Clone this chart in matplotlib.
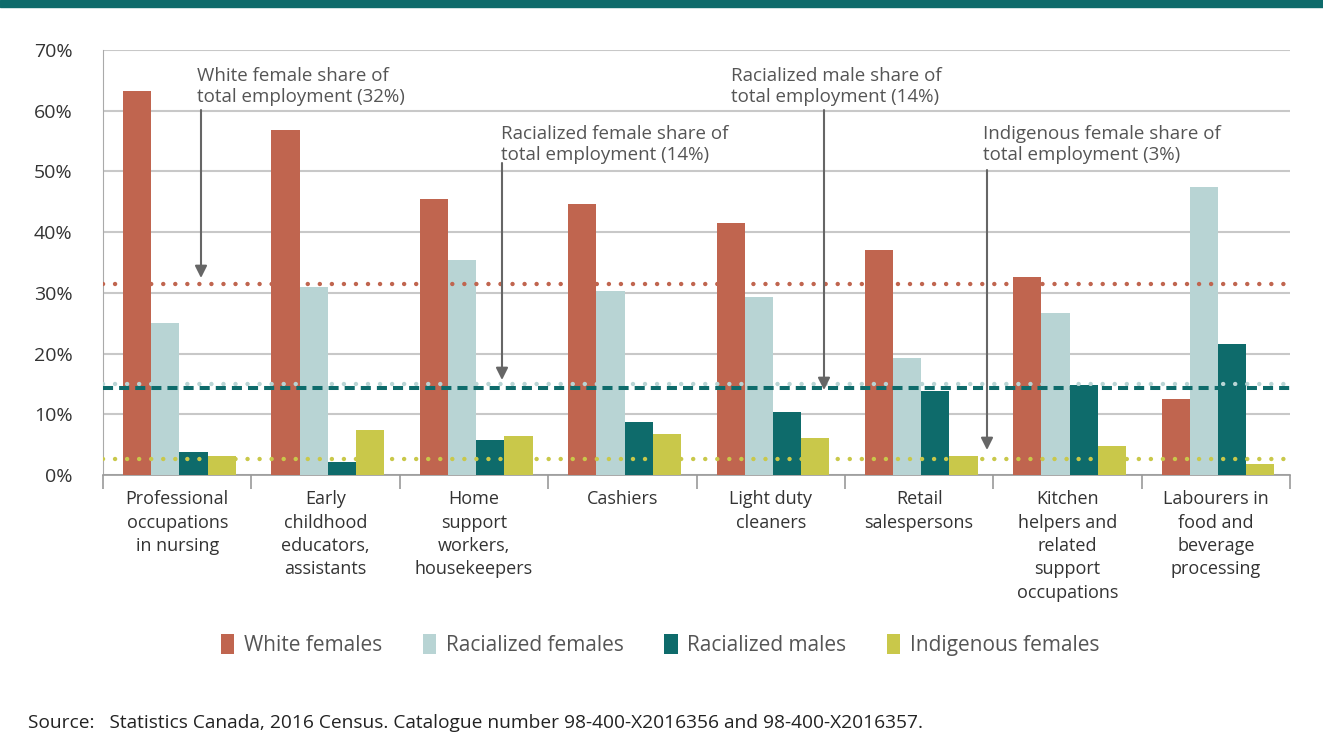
import matplotlib.pyplot as plt
import numpy as np
from matplotlib.patches import Rectangle

plt.rcParams['font.family'] = ['Open Sans', 'DejaVu Sans']

# Data (share of occupation, %)
categories = [
    "Professional\noccupations\nin nursing",
    "Early\nchildhood\neducators,\nassistants",
    "Home\nsupport\nworkers,\nhousekeepers",
    "Cashiers",
    "Light duty\ncleaners",
    "Retail\nsalespersons",
    "Kitchen\nhelpers and\nrelated\nsupport\noccupations",
    "Labourers in\nfood and\nbeverage\nprocessing",
]
white_females = [63.3, 56.8, 45.5, 44.6, 41.5, 37.0, 32.6, 12.5]
racialized_females = [25.0, 30.9, 35.4, 30.3, 29.3, 19.2, 26.7, 47.4]
racialized_males = [3.8, 2.2, 5.8, 8.7, 10.3, 13.8, 14.8, 21.6]
indigenous_females = [3.1, 7.4, 6.4, 6.7, 6.1, 3.1, 4.8, 1.8]

series_names = ["White females", "Racialized females", "Racialized males", "Indigenous females"]
colors = ["#c0654f", "#b8d4d4", "#0e6b6b", "#c9c84a"]

# Reference lines: share of total employment
ref_white_f = 31.4
ref_rac_f = 15.0
ref_rac_m = 14.3
ref_ind_f = 2.7

text_col = "#555555"

fig = plt.figure(figsize=(13.23, 7.55), dpi=100)
# top band
fig.patches.append(Rectangle((0, 1 - 7 / 755), 1, 7 / 755, transform=fig.transFigure,
                             color="#0e6b6b", zorder=0))

ax = fig.add_axes([103 / 1323, 1 - 475 / 755, (1290 - 103) / 1323, (475 - 50) / 755])

n = len(categories)
x = np.arange(n)
w = 0.19
all_series = [white_females, racialized_females, racialized_males, indigenous_females]
for i, (vals, name, c) in enumerate(zip(all_series, series_names, colors)):
    ax.bar(x + (i - 1.5) * w + 0.015, vals, width=w, color=c, label=name, zorder=3)

ax.set_xlim(-0.5, n - 0.5)
ax.set_ylim(0, 70)
ax.set_yticks(np.arange(0, 71, 10))
ax.set_yticklabels([f"{v}%" for v in range(0, 71, 10)], fontsize=14, color="#333333")
ax.yaxis.grid(True, color="#c8c8c8", lw=1.5, zorder=0)
ax.tick_params(axis='y', length=0, pad=22)

# reference lines
dot = dict(lw=3.2, dash_capstyle='round', zorder=4)
ax.axhline(ref_white_f, color="#c0654f", ls=(0, (0.01, 2.7)), **dot)
ax.axhline(ref_rac_f, color="#b8d4d4", ls=(0, (0.01, 2.7)), **dot)
ax.axhline(ref_rac_m, color="#0e6b6b", ls=(0, (2.5, 1.5)), lw=2.9, zorder=4)
ax.axhline(ref_ind_f, color="#c9c84a", ls=(0, (0.01, 2.7)), **dot)

# x axis: separators as ticks
ax.set_xticks(np.arange(-0.5, n, 1.0))
ax.set_xticklabels([])
ax.set_xticks(x, minor=True)
ax.set_xticklabels(categories, minor=True, fontsize=13, color="#333333", linespacing=1.38)
ax.tick_params(axis='x', which='major', length=10, color="#999999", width=1.2)
ax.tick_params(axis='x', which='minor', length=0, pad=11)
for s in ["top", "right"]:
    ax.spines[s].set_visible(False)
ax.spines["left"].set_color("#aaaaaa")
ax.spines["bottom"].set_color("#999999")
ax.spines["bottom"].set_linewidth(1.2)


def px_to_x(px):
    return (px - 103) / (1290 - 103) * n - 0.5


def px_to_y(py):
    return (475 - py) / (475 - 50) * 70


# annotations (text left/bottom, arrow x, arrow top/bottom in pixels)
def note(txt, xt, yt, xa, ya0, ya1):
    ax.text(px_to_x(xt), px_to_y(yt), txt, fontsize=13.5, color=text_col, va='bottom',
            ha='left', linespacing=1.2, zorder=6)
    ax.annotate("", xy=(px_to_x(xa), px_to_y(ya1)), xytext=(px_to_x(xa), px_to_y(ya0)),
                arrowprops=dict(arrowstyle="-|>", color="#666666", lw=1.5,
                                mutation_scale=18, shrinkA=0, shrinkB=0), zorder=6)


note("White female share of\ntotal employment (32%)", 197, 106, 201, 110, 278)
note("Racialized female share of\ntotal employment (14%)", 501, 164, 502, 163, 380)
note("Racialized male share of\ntotal employment (14%)", 731, 106, 824, 110, 390)
note("Indigenous female share of\ntotal employment (3%)", 983, 164, 987, 170, 450)

leg = fig.legend(loc='center', bbox_to_anchor=(660 / 1323, 1 - 645 / 755), ncol=4,
                 frameon=False, fontsize=15, handlelength=0.65, handleheight=1.15,
                 handletextpad=0.45, columnspacing=1.95)
for t in leg.get_texts():
    t.set_color(text_col)

fig.text(28 / 1323, 1 - 723 / 755,
         "Source:   Statistics Canada, 2016 Census. Catalogue number 98-400-X2016356 and 98-400-X2016357.",
         fontsize=13.8, color="#222222", va='center', ha='left')

fig.savefig("out.png", dpi=100)
